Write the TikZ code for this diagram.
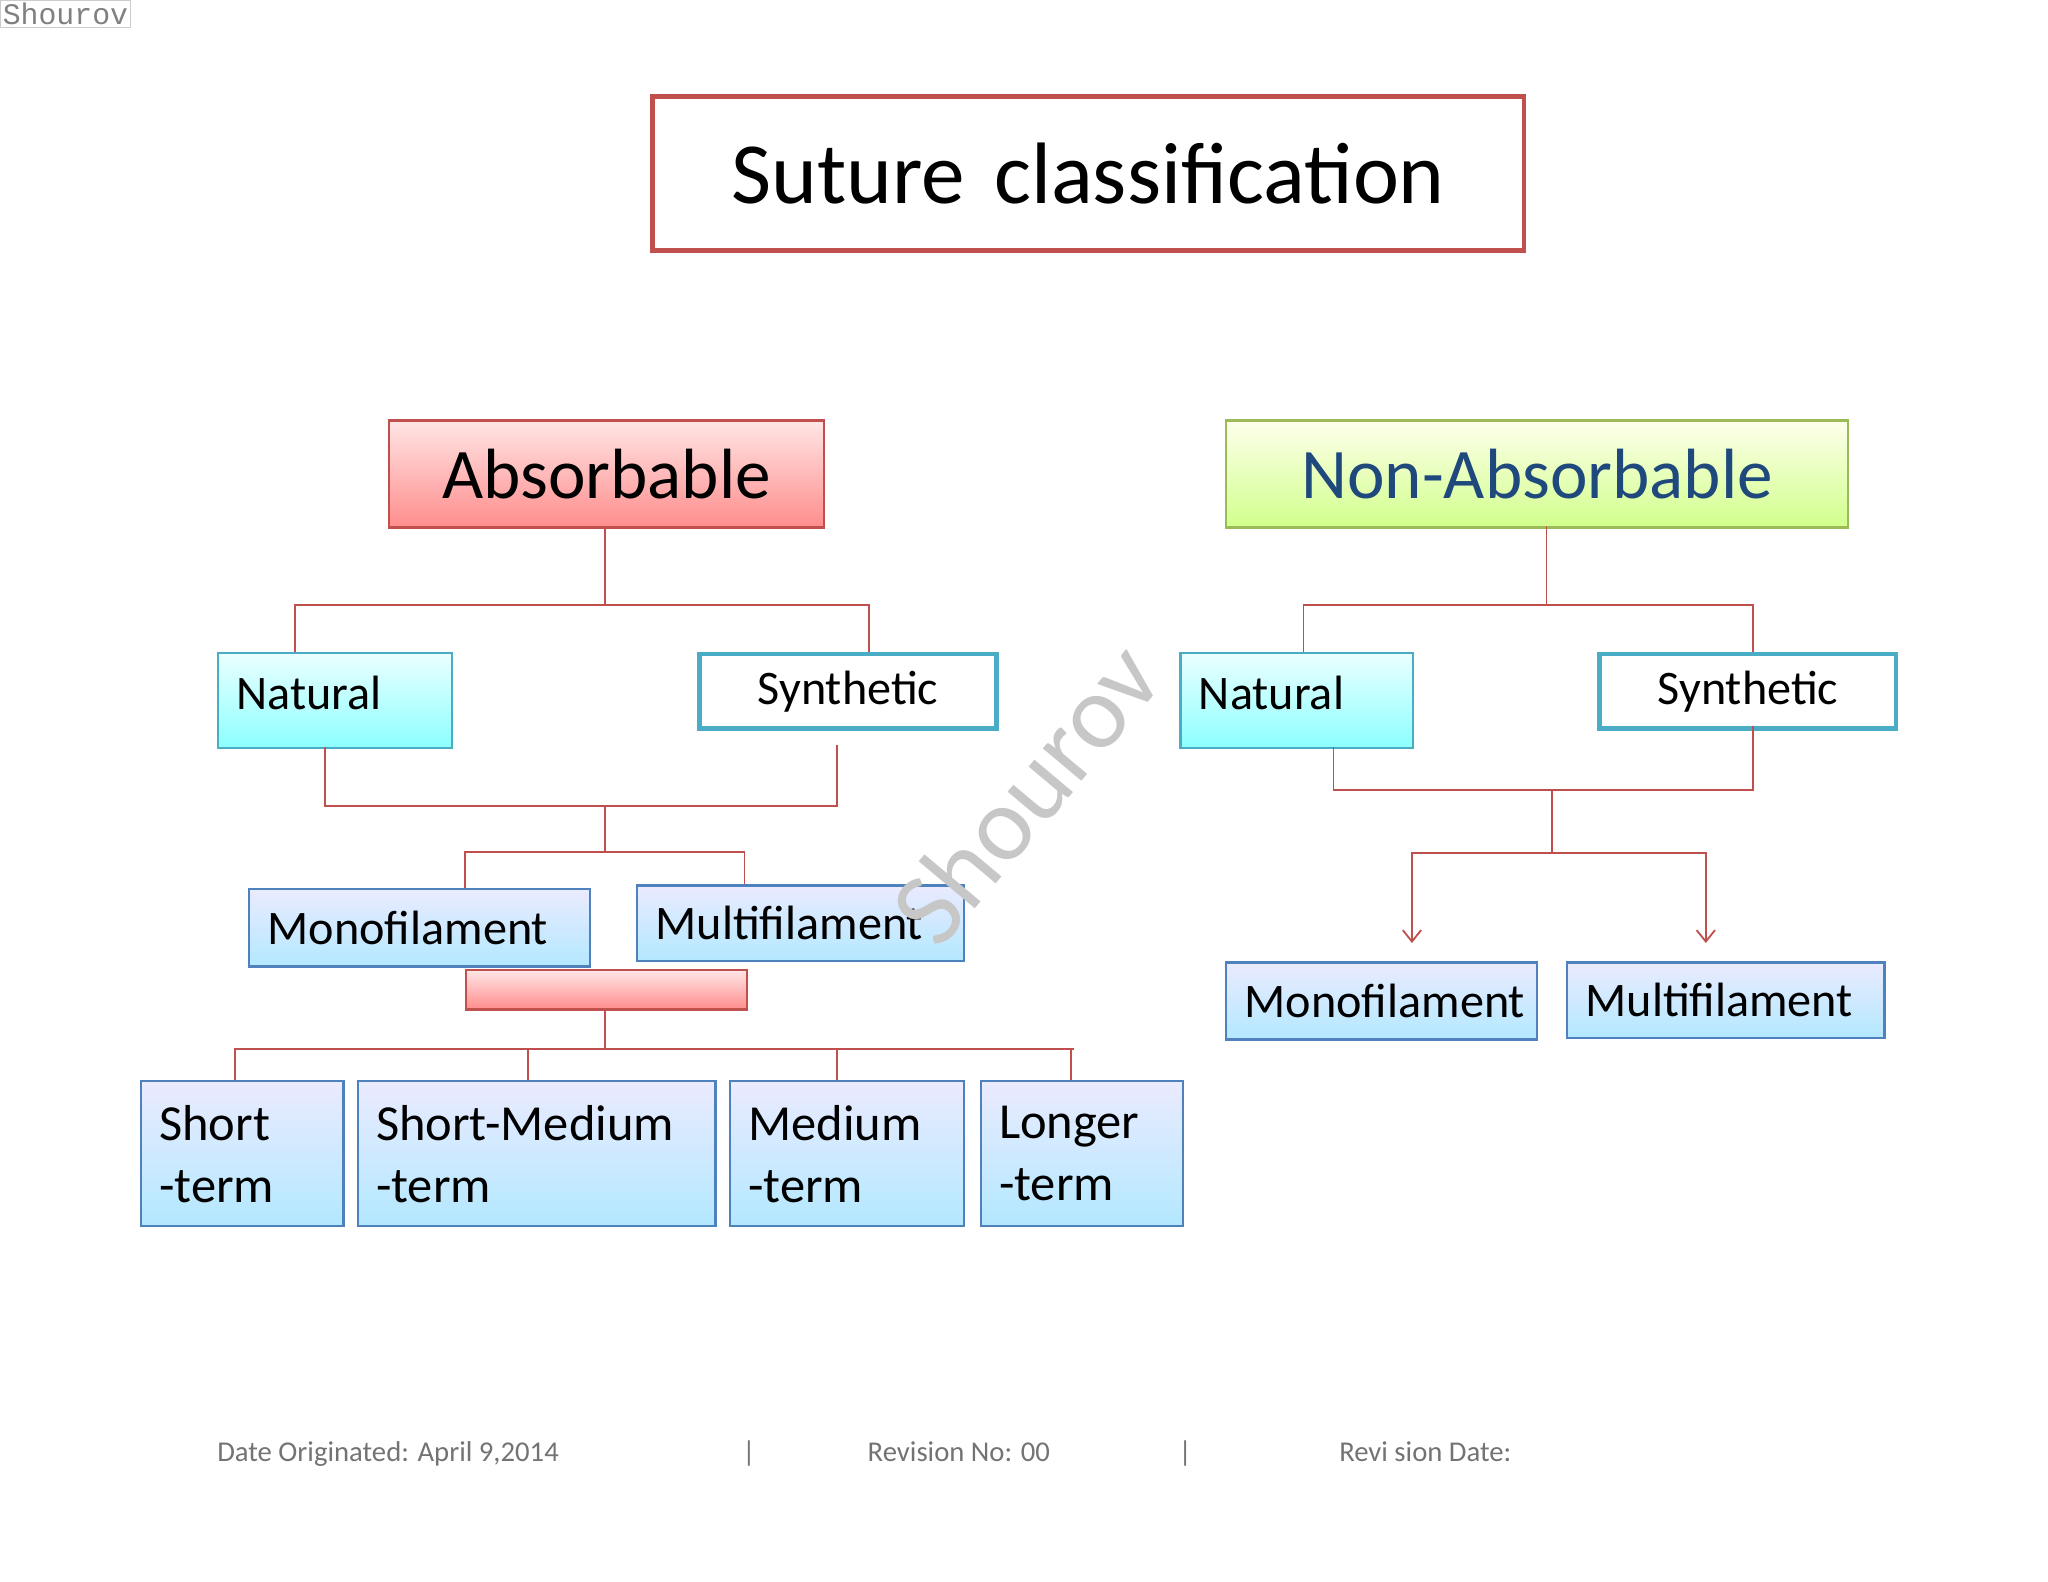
\documentclass[tikz,border=0pt]{standalone}
\usepackage{fontspec}
\setmainfont{Carlito}
\setmonofont{Liberation Mono}
\usetikzlibrary{arrows.meta}
\definecolor{cred}{HTML}{C0504D}
\definecolor{ccyan}{HTML}{4BACC6}
\definecolor{cblue}{HTML}{4F81BD}
\definecolor{cgreen}{HTML}{9BBB59}
\definecolor{cnavy}{HTML}{1F497D}
\newcommand\mybox[7]{\node[#6,anchor=north west,minimum width={(#4-#2)*0.02cm},minimum height={(#5-#3)*0.02cm},text width={(#4-#2-28)*0.02cm}] (#1) at (#2,#3) {#7};}
\tikzset{
 base/.style={inner xsep=0.28cm,inner ysep=0pt,line width=1pt},
 redb/.style={base,draw=cred,top color=red!10,bottom color=red!45},
 greenb/.style={base,draw=cgreen,top color=green!5!yellow!8,bottom color=green!40!yellow!45},
 cyanb/.style={base,draw=ccyan,top color=cyan!8,bottom color=cyan!45},
 synb/.style={base,draw=ccyan,fill=white,line width=2pt},
 blueb/.style={base,draw=cblue,top color=blue!8,bottom color=blue!30!cyan!30},
 conn/.style={draw=cred,line width=0.8pt},
 mid/.style={font=\fontsize{21}{23}\selectfont},
 med/.style={font=\fontsize{22}{27}\selectfont},
 foot/.style={font=\fontsize{12.5}{14}\selectfont,text=black!55,anchor=base west,inner sep=0pt}
}
\begin{document}
\begin{tikzpicture}[x=0.02cm,y=-0.02cm]
\useasboundingbox (0,0) rectangle (1568,1211);
\node[draw=black!20,fill=white,anchor=north west,inner sep=1pt,font=\ttfamily\fontsize{13}{14}\selectfont,text=black!50] (wm1) at (0,0) {Shourov};
\mybox{title}{498}{72}{1165}{190}{base,draw=cred,line width=2pt,fill=white,align=center,font=\fontsize{38}{42}\selectfont}{Suture classification}
\mybox{abs}{297}{321}{630}{403}{redb,align=center,font=\fontsize{31}{33}\selectfont}{Absorbable}
\mybox{nab}{938}{321}{1414}{403}{greenb,align=center,text=cnavy,font=\fontsize{31}{33}\selectfont}{Non-Absorbable}
\mybox{natL}{166}{499}{345}{572}{cyanb,align=left,mid}{Natural\\[-0.75em]\mbox{}}
\mybox{synL}{534}{499}{761}{556}{synb,align=center,mid}{Synthetic}
\mybox{natR}{903}{499}{1081}{572}{cyanb,align=left,mid}{Natural\\[-0.75em]\mbox{}}
\mybox{synR}{1223}{499}{1450}{556}{synb,align=center,mid}{Synthetic}
\mybox{monoL}{190}{680}{451}{739}{blueb,align=left,mid}{Monofilament}
\mybox{multL}{487}{677}{737}{735}{blueb,align=left,mid}{Multifilament}
\mybox{bar}{356}{742}{571}{772}{redb}{}
\mybox{st}{107}{827}{262}{938}{blueb,align=left,med}{Short\\-term}
\mybox{smt}{273}{827}{547}{938}{blueb,align=left,med}{Short-Medium\\-term}
\mybox{mt}{558}{827}{737}{938}{blueb,align=left,med}{Medium\\-term}
\mybox{lt}{750}{827}{905}{938}{blueb,align=left,med}{Longer\\-term}
\mybox{monoR}{938}{736}{1176}{795}{blueb,align=left,mid}{Monofilament}
\mybox{multR}{1199}{736}{1442}{794}{blueb,align=left,mid}{Multifilament}
% left connectors
\draw[conn] (463,403) -- (463,463);
\draw[conn] (226,499) |- (665,463) -- (665,499);
\draw[conn] (249,572) |- (641,617) -- (641,570);
\draw[conn] (463,617) -- (463,652);
\draw[conn] (356,680) |- (570,652) -- (570,677);
\draw[conn] (463,772) -- (463,803);
\draw[conn] (180,827) |- (822,803);
\draw[conn] (404,803) -- (404,827);
\draw[conn] (641,803) -- (641,827);
\draw[conn] (820,803) -- (820,827);
% right connectors
\draw[conn] (1184,403) -- (1184,463);
\draw[conn] (998,499) |- (1342,463) -- (1342,499);
\draw[conn] (1021,572) |- (1342,605) -- (1342,556);
\draw[conn] (1188,605) -- (1188,653);
\coordinate (aL) at (1081,722);
\coordinate (aR) at (1306,722);
\draw[conn,-{Straight Barb[length=5pt,width=8pt]}] (1188,653) -| (aL);
\draw[conn,-{Straight Barb[length=5pt,width=8pt]}] (1188,653) -| (aR);
% footer
\node[foot] (f1) at (166,1119) {Date Originated: April 9,2014};
\node[foot] (f2) at (568,1119) {|};
\node[foot] (f3) at (664,1119) {Revision No: 00};
\node[foot] (f4) at (902,1119) {|};
\node[foot] (f5) at (1025,1119) {Revi sion Date:};
\node[rotate=50,text=black!22,font=\fontsize{46}{48}\selectfont] (wm2) at (785,607) {Shourov};
\end{tikzpicture}
\end{document}
